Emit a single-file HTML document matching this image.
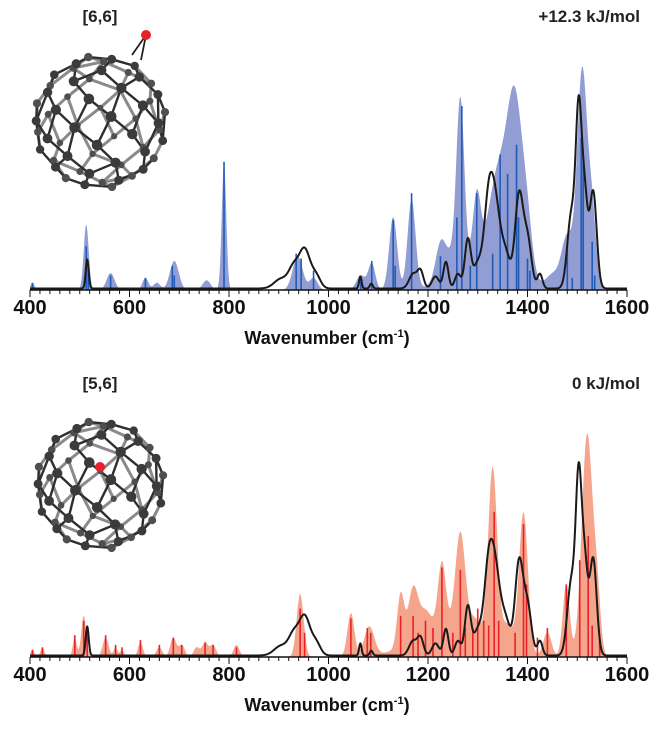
<!DOCTYPE html>
<html><head><meta charset="utf-8"><style>
html,body{margin:0;padding:0;background:#fff;}
svg{display:block;font-family:"Liberation Sans",Arial,sans-serif;}
</style></head><body>
<svg id="c" width="666" height="732" viewBox="0 0 666 732" xmlns="http://www.w3.org/2000/svg"></svg>
<script>
// ---- data ----
const ticks = [400, 600, 800, 1000, 1200, 1400, 1600];
// experimental spectrum peaks (shared): center, height, sigma
const expCenters = [515, 905, 930, 952, 975, 1064, 1086, 1170, 1185, 1215, 1236, 1260, 1280, 1300, 1322, 1336, 1355, 1383, 1400, 1425, 1488, 1503, 1515, 1532];
const expHeights = [0.12, 0.04, 0.08, 0.16, 0.05, 0.05, 0.02, 0.06, 0.07, 0.05, 0.11, 0.06, 0.2, 0.1, 0.36, 0.28, 0.15, 0.38, 0.2, 0.06, 0.3, 0.7, 0.35, 0.4];
const expSigmas = [3, 14, 10, 11, 9, 2.5, 3, 8, 6, 7, 5, 6, 6, 9, 9, 9, 10, 8, 8, 5, 8, 6, 6, 7];
// [6,6] calculated envelope peaks
const blueCenters = [405, 513, 562, 632, 655, 690, 755, 790, 938, 970, 1065, 1087, 1130, 1167, 1225, 1245, 1265, 1298, 1340, 1375, 1400, 1450, 1480, 1510, 1530, 1320];
const blueHeights = [0.03, 0.27, 0.07, 0.05, 0.03, 0.12, 0.04, 0.52, 0.14, 0.05, 0.06, 0.11, 0.3, 0.37, 0.15, 0.08, 0.7, 0.28, 0.35, 0.7, 0.15, 0.05, 0.22, 0.9, 0.3, 0.12];
const blueSigmas = [4, 5, 8, 6, 7, 9, 8, 4.5, 10, 8, 9, 7, 8, 8, 10, 12, 8, 8, 18, 16, 10, 12, 12, 10, 8, 60];
// [6,6] sticks
const blueStickX = [405, 513, 517, 562, 632, 686, 690, 790, 935, 945, 970, 1065, 1087, 1130, 1134, 1167, 1225, 1258, 1268, 1285, 1298, 1330, 1345, 1360, 1378, 1382, 1400, 1405, 1480, 1490, 1508, 1512, 1530, 1535];
const blueStickH = [0.03, 0.18, 0.1, 0.06, 0.05, 0.1, 0.06, 0.53, 0.15, 0.13, 0.08, 0.04, 0.12, 0.29, 0.1, 0.4, 0.14, 0.3, 0.76, 0.1, 0.4, 0.15, 0.56, 0.48, 0.6, 0.3, 0.13, 0.08, 0.19, 0.05, 0.63, 0.55, 0.2, 0.06];
// [5,6] calculated envelope peaks
const redCenters = [405, 425, 490, 508, 552, 572, 585, 622, 660, 688, 705, 735, 752, 768, 815, 943, 1045, 1082, 1145, 1170, 1195, 1228, 1265, 1295, 1330, 1360, 1392, 1440, 1478, 1520, 1540, 1250];
const redHeights = [0.03, 0.04, 0.08, 0.17, 0.08, 0.04, 0.03, 0.06, 0.04, 0.08, 0.05, 0.04, 0.06, 0.05, 0.05, 0.26, 0.18, 0.12, 0.22, 0.22, 0.1, 0.28, 0.4, 0.06, 0.72, 0.1, 0.58, 0.1, 0.3, 0.92, 0.22, 0.12];
const redSigmas = [4, 4, 4, 5, 6, 4, 4, 5, 6, 6, 6, 6, 6, 6, 6, 7, 7, 10, 7, 10, 12, 8, 10, 10, 9, 12, 9, 8, 7, 11, 7, 70];
// [5,6] sticks
const redStickX = [405, 425, 490, 508, 515, 552, 572, 585, 622, 660, 688, 705, 752, 768, 815, 943, 952, 1045, 1078, 1085, 1145, 1170, 1180, 1195, 1210, 1228, 1250, 1265, 1275, 1290, 1300, 1312, 1322, 1333, 1342, 1375, 1392, 1398, 1420, 1440, 1478, 1505, 1522, 1530, 1545];
const redStickH = [0.03, 0.04, 0.09, 0.15, 0.1, 0.09, 0.05, 0.04, 0.07, 0.05, 0.08, 0.05, 0.06, 0.05, 0.04, 0.2, 0.1, 0.16, 0.12, 0.1, 0.17, 0.17, 0.1, 0.15, 0.12, 0.37, 0.1, 0.36, 0.12, 0.12, 0.2, 0.15, 0.13, 0.6, 0.15, 0.1, 0.55, 0.3, 0.08, 0.12, 0.3, 0.4, 0.5, 0.13, 0.08];

// ---- layout ----
const NS = "http://www.w3.org/2000/svg";
const svg = document.getElementById('c');
const X0 = 30, X1 = 627, W0 = 400, W1 = 1600, H = 242;
function xs(w){ return X0 + (w - W0) / (W1 - W0) * (X1 - X0); }
function mk(tag, attrs, parent){
  const e = document.createElementNS(NS, tag);
  for (const k in attrs) e.setAttribute(k, attrs[k]);
  (parent || svg).appendChild(e);
  return e;
}
function spec(c, h, s, w){
  let v = 0;
  for (let i = 0; i < c.length; i++){ const d = (w - c[i]) / s[i]; v += h[i] * Math.exp(-0.5 * d * d); }
  return v;
}

function panel(base, fc, hc, sc, stx, sth, fillCol, stickCol, name){
  const g = mk('g', {});
  
  
  const ys = v => base - v * H;
  let d = 'M' + xs(W0) + ',' + base;
  for (let w = W0; w <= W1; w += 1) d += ' L' + xs(w).toFixed(2) + ',' + ys(Math.min(spec(fc, hc, sc, w), 1.02)).toFixed(2);
  d += ' L' + xs(W1) + ',' + base + 'Z';
  const f = mk('path', {d: d, fill: fillCol, stroke: 'none'}, g);
  
  
  for (let i = 0; i < stx.length; i++){
    const r = mk('rect', {x: (xs(stx[i]) - 0.8).toFixed(2), y: ys(sth[i]).toFixed(2), width: 1.6, height: (sth[i] * H).toFixed(2), fill: stickCol}, g);
    
    
  }
  let e = '';
  for (let w = W0; w <= W1; w += 1) e += (w === W0 ? 'M' : ' L') + xs(w).toFixed(2) + ',' + (ys(spec(expCenters, expHeights, expSigmas, w)) - 1.5).toFixed(2);
  const p = mk('path', {d: e, fill: 'none', stroke: '#1a1a1a', 'stroke-width': 2, 'stroke-linejoin': 'round'}, g);
  
  
  const ax = mk('line', {x1: X0, x2: X1, y1: base, y2: base, stroke: '#111', 'stroke-width': 1.5}, g);
  
  
  for (let w = W0; w <= W1; w += 20){
    const major = (w % 200 === 0);
    const t = mk('line', {x1: xs(w), x2: xs(w), y1: base, y2: base + (major ? 7 : 4), stroke: '#111', 'stroke-width': 1}, g);
    
    
  }
  for (const tv of ticks){
    const t = mk('text', {x: xs(tv), y: base + 24, 'text-anchor': 'middle', 'font-size': 20, 'font-weight': 'bold', fill: '#111'}, g);
    t.textContent = tv;
    
    
  }
  const tt = mk('text', {x: 327, y: base + 54, 'text-anchor': 'middle', 'font-size': 18, 'font-weight': 'bold', fill: '#111'}, g);
  tt.innerHTML = 'Wavenumber (cm<tspan dy="-7" font-size="11">-1</tspan><tspan dy="7">)</tspan>';
  
  
}

function cage(cx, cy, r, hi, hiInside, name){
  const g = mk('g', {});
  
  
  const pts = [], N = 60;
  for (let i = 0; i < N; i++){
    const yv = 1 - (i + 0.5) / N * 2, rad = Math.sqrt(1 - yv * yv), th = i * 2.39996;
    pts.push([Math.cos(th) * rad, yv, Math.sin(th) * rad]);
  }
  pts.sort((a, b) => a[2] - b[2]);
  for (let i = 0; i < N; i++) for (let j = i + 1; j < N; j++){
    const a = pts[i], b = pts[j], dd = Math.hypot(a[0]-b[0], a[1]-b[1], a[2]-b[2]);
    if (dd < 0.5) mk('line', {x1: (cx + a[0]*r).toFixed(1), y1: (cy + a[1]*r).toFixed(1), x2: (cx + b[0]*r).toFixed(1), y2: (cy + b[1]*r).toFixed(1), stroke: (a[2] + b[2] > 0) ? '#2e2e2e' : '#8a8a8a', 'stroke-width': (a[2] + b[2] > 0) ? 2.4 : 3}, g);
  }
  for (const p of pts){
    mk('circle', {cx: (cx + p[0]*r).toFixed(1), cy: (cy + p[1]*r).toFixed(1), r: (3 + 2.4 * (p[2] + 1) / 2).toFixed(1), fill: p[2] > 0 ? '#3a3b3d' : '#4e4f51'}, g);
  }
  if (!hiInside){
    mk('line', {x1: hi[0], y1: hi[1], x2: hi[0]-14, y2: hi[1]+20, stroke: '#222', 'stroke-width': 1.8}, g);
    mk('line', {x1: hi[0], y1: hi[1], x2: hi[0]-5, y2: hi[1]+25, stroke: '#222', 'stroke-width': 1.8}, g);
  }
  mk('circle', {cx: hi[0], cy: hi[1], r: 5, fill: '#e8212a'}, g);
}

function label(x, y, txt, anchor, name){
  const t = mk('text', {x: x, y: y, 'text-anchor': anchor, 'font-size': 17, 'font-weight': 'bold', fill: '#222'});
  t.textContent = txt;
  
  
}

panel(290, blueCenters, blueHeights, blueSigmas, blueStickX, blueStickH, '#919dd3', '#1f5cb8', 'isomer-66');
panel(657, redCenters, redHeights, redSigmas, redStickX, redStickH, '#f5a58c', '#ea2228', 'isomer-56');
cage(100, 122, 66, [146, 35], false, 'isomer-66-molecule');
cage(100, 485, 64, [100, 467], true, 'isomer-56-molecule');
label(100, 22, '[6,6]', 'middle', 'isomer-66-label');
label(640, 22, '+12.3 kJ/mol', 'end', 'isomer-66-energy');
label(100, 389, '[5,6]', 'middle', 'isomer-56-label');
label(640, 389, '0 kJ/mol', 'end', 'isomer-56-energy');
</script>
</body></html>
